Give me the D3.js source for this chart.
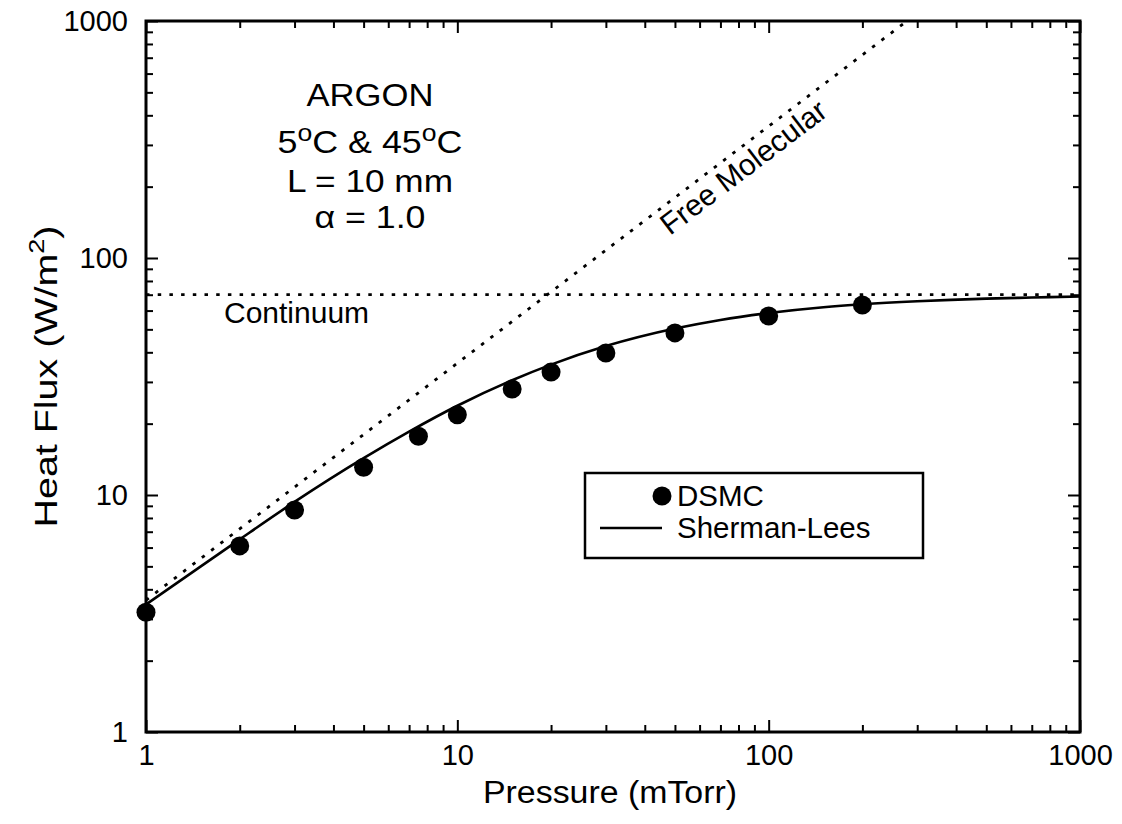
<!DOCTYPE html>
<html>
<head>
<meta charset="utf-8">
<script src="https://cdn.jsdelivr.net/npm/d3@7"></script>
<style>
  html, body { margin: 0; padding: 0; background: #fff; }
  svg { display: block; font-family: "Liberation Sans", Arial, Helvetica, sans-serif; }
</style>
</head>
<body>
<svg id="chart" width="1122" height="824"></svg>
<script>
// ---- data ----
const dsmcPressure = [1, 2, 3, 5, 7.5, 10, 15, 20, 30, 50, 100, 200];
const dsmcFlux     = [3.2, 6.1, 8.65, 13.1, 17.7, 21.8, 28.0, 33.0, 39.7, 48.3, 56.9, 63.3];

const slPressure = [1, 1.5, 2, 3, 5, 7, 10, 15, 20, 30, 50, 70, 100, 150, 200, 300, 500, 700, 1000];
const slFlux     = [3.45, 5.0, 6.5, 9.35, 14.3, 18.5, 23.8, 30.5, 35.5, 42.5, 50.4, 54.8, 58.6, 62.0, 63.8, 65.7, 67.4, 68.1, 68.8];

const fmPressure = [1, 278];
const fmFlux     = [3.6, 1000];

const contPressure = [1, 1000];
const contFlux     = [70, 70];

const majorTicks = [1, 10, 100, 1000];
const tickLabels = ["1", "10", "100", "1000"];

// ---- layout ----
const W = 1122, H = 824;
const L = 146, T = 21, R = 1080, B = 732;

const svg = d3.select("#chart");
const x = d3.scaleLog().domain([1, 1000]).range([L, R]);
const y = d3.scaleLog().domain([1, 1000]).range([B, T]);

const minorTicks = [];
[1, 10, 100].forEach(d => { for (let k = 2; k <= 9; k++) minorTicks.push(d * k); });

const fmt = d => tickLabels[majorTicks.indexOf(d)];

function styleAxis(g) {
  g.select(".domain").remove();
  g.selectAll(".tick line").attr("stroke", "#000").attr("stroke-width", 2);
  g.selectAll(".tick text").attr("font-size", 29).attr("fill", "#000")
    .attr("font-family", "'Liberation Sans', Arial, sans-serif");
}

// bottom
svg.append("g").attr("transform", `translate(0,${B})`)
  .call(d3.axisBottom(x).tickValues(majorTicks).tickFormat(fmt).tickSizeInner(-12).tickSizeOuter(0).tickPadding(12))
  .call(styleAxis);
svg.append("g").attr("transform", `translate(0,${B})`)
  .call(d3.axisBottom(x).tickValues(minorTicks).tickFormat("").tickSizeInner(-7).tickSizeOuter(0))
  .call(styleAxis);
// top
svg.append("g").attr("transform", `translate(0,${T})`)
  .call(d3.axisTop(x).tickValues(majorTicks).tickFormat("").tickSizeInner(-12).tickSizeOuter(0))
  .call(styleAxis);
svg.append("g").attr("transform", `translate(0,${T})`)
  .call(d3.axisTop(x).tickValues(minorTicks).tickFormat("").tickSizeInner(-7).tickSizeOuter(0))
  .call(styleAxis);
// left
svg.append("g").attr("transform", `translate(${L},0)`)
  .call(d3.axisLeft(y).tickValues(majorTicks).tickFormat(fmt).tickSizeInner(-12).tickSizeOuter(0).tickPadding(18))
  .call(styleAxis);
svg.append("g").attr("transform", `translate(${L},0)`)
  .call(d3.axisLeft(y).tickValues(minorTicks).tickFormat("").tickSizeInner(-7).tickSizeOuter(0))
  .call(styleAxis);
// right
svg.append("g").attr("transform", `translate(${R},0)`)
  .call(d3.axisRight(y).tickValues(majorTicks).tickFormat("").tickSizeInner(-12).tickSizeOuter(0))
  .call(styleAxis);
svg.append("g").attr("transform", `translate(${R},0)`)
  .call(d3.axisRight(y).tickValues(minorTicks).tickFormat("").tickSizeInner(-7).tickSizeOuter(0))
  .call(styleAxis);

// clip
svg.append("defs").append("clipPath").attr("id", "plotclip")
  .append("rect").attr("x", L).attr("y", T).attr("width", R - L).attr("height", B - T);

const plot = svg.append("g").attr("clip-path", "url(#plotclip)");
const line = d3.line().x(d => x(d[0])).y(d => y(d[1]));

// dotted reference lines
plot.append("path").datum(fmPressure.map((p, i) => [p, fmFlux[i]]))
  .attr("d", line).attr("fill", "none").attr("stroke", "#000")
  .attr("stroke-width", 2.8).attr("stroke-dasharray", "3.5,8.2");
plot.append("path").datum(contPressure.map((p, i) => [p, contFlux[i]]))
  .attr("d", line).attr("fill", "none").attr("stroke", "#000")
  .attr("stroke-width", 2.8).attr("stroke-dasharray", "3.5,8.2");

// Sherman-Lees curve
plot.append("path").datum(slPressure.map((p, i) => [p, slFlux[i]]))
  .attr("d", line.curve(d3.curveMonotoneX)).attr("fill", "none").attr("stroke", "#000")
  .attr("stroke-width", 2.6);

// DSMC points
svg.append("g").selectAll("circle").data(dsmcPressure.map((p, i) => [p, dsmcFlux[i]]))
  .join("circle").attr("cx", d => x(d[0])).attr("cy", d => y(d[1])).attr("r", 9.5).attr("fill", "#000");

// frame
svg.append("rect").attr("x", L).attr("y", T).attr("width", R - L).attr("height", B - T)
  .attr("fill", "none").attr("stroke", "#000").attr("stroke-width", 3);

// axis titles
svg.append("text").attr("x", 610).attr("y", 803).attr("text-anchor", "middle")
  .attr("font-size", 31).attr("textLength", 254).attr("lengthAdjust", "spacingAndGlyphs")
  .text("Pressure (mTorr)");

const yt = svg.append("text").attr("transform", `translate(57,${(T + B) / 2}) rotate(-90)`)
  .attr("text-anchor", "middle").attr("font-size", 32)
  .attr("textLength", 302).attr("lengthAdjust", "spacingAndGlyphs");
yt.append("tspan").text("Heat Flux (W/m");
yt.append("tspan").attr("dy", -13).attr("font-size", 22).text("2");
yt.append("tspan").attr("dy", 13).text(")");

// annotation block
const ax = 370;
function ann(yy, len) {
  return svg.append("text").attr("x", ax).attr("y", yy).attr("text-anchor", "middle")
    .attr("font-size", 31).attr("textLength", len).attr("lengthAdjust", "spacingAndGlyphs");
}
ann(106, 127).text("ARGON");
const t2 = ann(153, 185);
t2.append("tspan").text("5");
t2.append("tspan").attr("dy", -12).attr("font-size", 23).text("o");
t2.append("tspan").attr("dy", 12).text("C & 45");
t2.append("tspan").attr("dy", -12).attr("font-size", 23).text("o");
t2.append("tspan").attr("dy", 12).text("C");
ann(192, 166).text("L = 10 mm");
ann(228, 111).text("\u03B1 = 1.0");

// line labels
svg.append("text").attr("x", 224).attr("y", 323).attr("font-size", 30).text("Continuum");
svg.append("text").attr("transform", "translate(670,236) rotate(-37.3)")
  .attr("font-size", 30).text("Free Molecular");

// legend
const lg = svg.append("g");
lg.append("rect").attr("x", 585).attr("y", 473).attr("width", 338).attr("height", 85)
  .attr("fill", "#fff").attr("stroke", "#000").attr("stroke-width", 2.5);
lg.append("circle").attr("cx", 662).attr("cy", 496).attr("r", 9.5).attr("fill", "#000");
lg.append("text").attr("x", 677).attr("y", 506).attr("font-size", 29.5).text("DSMC");
lg.append("line").attr("x1", 600).attr("x2", 662).attr("y1", 528).attr("y2", 528)
  .attr("stroke", "#000").attr("stroke-width", 2.6);
lg.append("text").attr("x", 677).attr("y", 538).attr("font-size", 29.5).text("Sherman-Lees");
</script>
</body>
</html>
